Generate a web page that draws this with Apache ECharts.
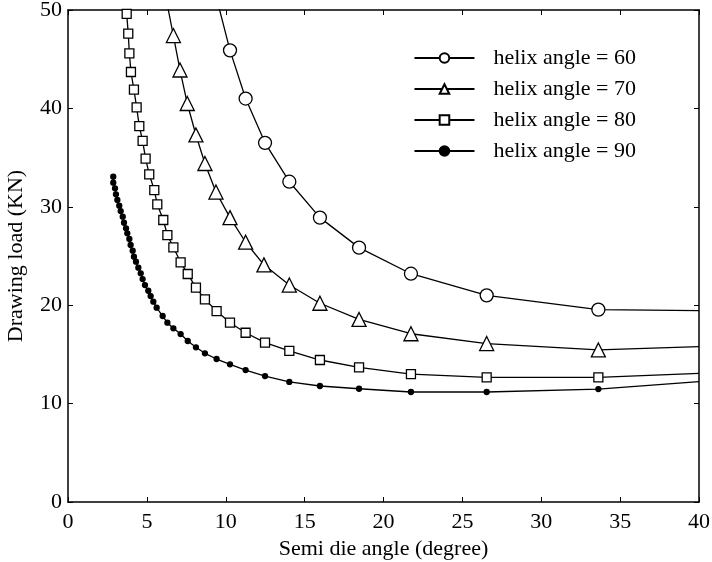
<!DOCTYPE html>
<html><head><meta charset="utf-8">
<script src="https://cdn.jsdelivr.net/npm/echarts@6/dist/echarts.min.js"></script>
<style>html,body{margin:0;padding:0;background:#fff}#c{width:712px;height:562px}</style>
</head><body><div id="c"></div>
<script>
// Series data (semi die angle in degrees, drawing load in KN)
const x60 = [9.42, 10.27, 11.26, 12.49, 14.03, 15.97, 18.45, 21.74, 26.54, 33.62, 40];
const y60 = [51.2, 45.9, 41.0, 36.5, 32.55, 28.9, 25.85, 23.2, 21.0, 19.55, 19.44];
const x70 = [6.30, 6.68, 7.10, 7.56, 8.11, 8.68, 9.38, 10.27, 11.26, 12.42, 14.03, 15.97, 18.45, 21.74, 26.54, 33.62, 40];
const y70 = [50.5, 47.4, 43.9, 40.5, 37.3, 34.4, 31.5, 28.9, 26.4, 24.1, 22.05, 20.2, 18.55, 17.1, 16.1, 15.45, 15.8];
const x80 = [3.63, 3.72, 3.82, 3.89, 3.99, 4.18, 4.35, 4.52, 4.73, 4.92, 5.15, 5.47, 5.66, 6.04, 6.30, 6.68, 7.14, 7.59, 8.11, 8.68, 9.42, 10.27, 11.26, 12.49, 14.03, 15.97, 18.45, 21.74, 26.54, 33.62, 40];
const y80 = [51.3, 49.6, 47.6, 45.6, 43.7, 41.9, 40.1, 38.2, 36.7, 34.9, 33.3, 31.7, 30.25, 28.66, 27.13, 25.88, 24.36, 23.17, 21.78, 20.6, 19.4, 18.22, 17.2, 16.19, 15.35, 14.43, 13.69, 13.0, 12.67, 12.67, 13.08];
const x90 = [2.87, 2.87, 2.98, 3.04, 3.13, 3.25, 3.34, 3.47, 3.55, 3.68, 3.76, 3.89, 3.97, 4.10, 4.18, 4.31, 4.46, 4.61, 4.73, 4.88, 5.09, 5.24, 5.41, 5.62, 6.0, 6.3, 6.68, 7.14, 7.59, 8.11, 8.68, 9.42, 10.27, 11.26, 12.49, 14.03, 15.97, 18.45, 21.74, 26.54, 33.62, 40];
const y90 = [33.06, 32.45, 31.88, 31.27, 30.69, 30.11, 29.57, 29.0, 28.38, 27.81, 27.3, 26.73, 26.12, 25.54, 24.93, 24.42, 23.81, 23.24, 22.66, 22.05, 21.47, 20.93, 20.36, 19.75, 18.9, 18.22, 17.65, 17.07, 16.36, 15.72, 15.11, 14.53, 13.99, 13.41, 12.8, 12.2, 11.79, 11.51, 11.18, 11.18, 11.48, 12.23];
// points drawn without a marker (outside the plot top, or the final end point)
const hidden60 = [0, 10];
const hidden70 = [0, 16];
const hidden80 = [0, 30];
const hidden90 = [41];
const seriesNames = ['helix angle = 60', 'helix angle = 70', 'helix angle = 80', 'helix angle = 90'];
const xTicks = [0, 5, 10, 15, 20, 25, 30, 35, 40];
const yTicks = [0, 10, 20, 30, 40, 50];

const FONT = '"Liberation Serif", "Times New Roman", serif';
const FS = 22;
function build(xs, ys, hidden) {
  return xs.map((x, i) => hidden.indexOf(i) >= 0 ? {value: [x, ys[i]], symbol: 'none'} : {value: [x, ys[i]]});
}
const lineStyle = {color: '#000', width: 1.3};
function mk(name, xs, ys, hidden, symbol, size, fill) {
  return {
    name, type: 'line', data: build(xs, ys, hidden), symbol, symbolSize: size,
    showAllSymbol: true, clip: true, z: 3,
    lineStyle, itemStyle: {color: fill, borderColor: '#000', borderWidth: 1.3},
    emphasis: {disabled: true}, animation: false
  };
}
const chart = echarts.init(document.getElementById('c'), null, {renderer: 'canvas'});
const axisCommon = {
  min: 0, type: 'value',
  axisLine: {show: true, onZero: false, lineStyle: {color: '#000', width: 1.5}},
  axisTick: {show: true, inside: true, length: 5, lineStyle: {color: '#000', width: 1}},
  splitLine: {show: false},
  axisLabel: {color: '#000', fontFamily: FONT, fontSize: FS}
};
chart.setOption({
  animation: false,
  backgroundColor: '#fff',
  grid: {left: 68, right: 13, top: 10, bottom: 60, containLabel: false, outerBoundsMode: 'none'},
  legend: {
    data: seriesNames, right: 71, top: 42, orient: 'vertical',
    itemWidth: 60, itemHeight: 12, itemGap: 9,
    textStyle: {color: '#000', fontFamily: FONT, fontSize: FS, padding: [0, 0, 0, 14]},
    selectedMode: false
  },
  xAxis: [
    Object.assign({}, axisCommon, {max: 40, interval: 5, position: 'bottom',
      name: 'Semi die angle (degree)', nameLocation: 'middle', nameGap: 34,
      nameTextStyle: {color: '#000', fontFamily: FONT, fontSize: FS},
      axisLabel: Object.assign({}, axisCommon.axisLabel, {margin: 9, formatter: v => xTicks.indexOf(v) >= 0 ? String(v) : ''})}),
    Object.assign({}, axisCommon, {max: 40, interval: 5, position: 'top', axisLabel: {show: false}})
  ],
  yAxis: [
    Object.assign({}, axisCommon, {max: 50, interval: 10, position: 'left',
      name: 'Drawing load (KN)', nameLocation: 'middle', nameGap: 41,
      nameTextStyle: {color: '#000', fontFamily: FONT, fontSize: FS},
      axisLabel: Object.assign({}, axisCommon.axisLabel, {margin: 6, formatter: v => yTicks.indexOf(v) >= 0 ? String(v) : ''})}),
    Object.assign({}, axisCommon, {max: 50, interval: 10, position: 'right', axisLabel: {show: false}})
  ],
  series: [
    mk(seriesNames[0], x60, y60, hidden60, 'circle', 13, '#fff'),
    mk(seriesNames[1], x70, y70, hidden70, 'triangle', 14, '#fff'),
    mk(seriesNames[2], x80, y80, hidden80, 'rect', 9, '#fff'),
    mk(seriesNames[3], x90, y90, hidden90, 'circle', 5, '#000')
  ]
});
</script></body></html>
